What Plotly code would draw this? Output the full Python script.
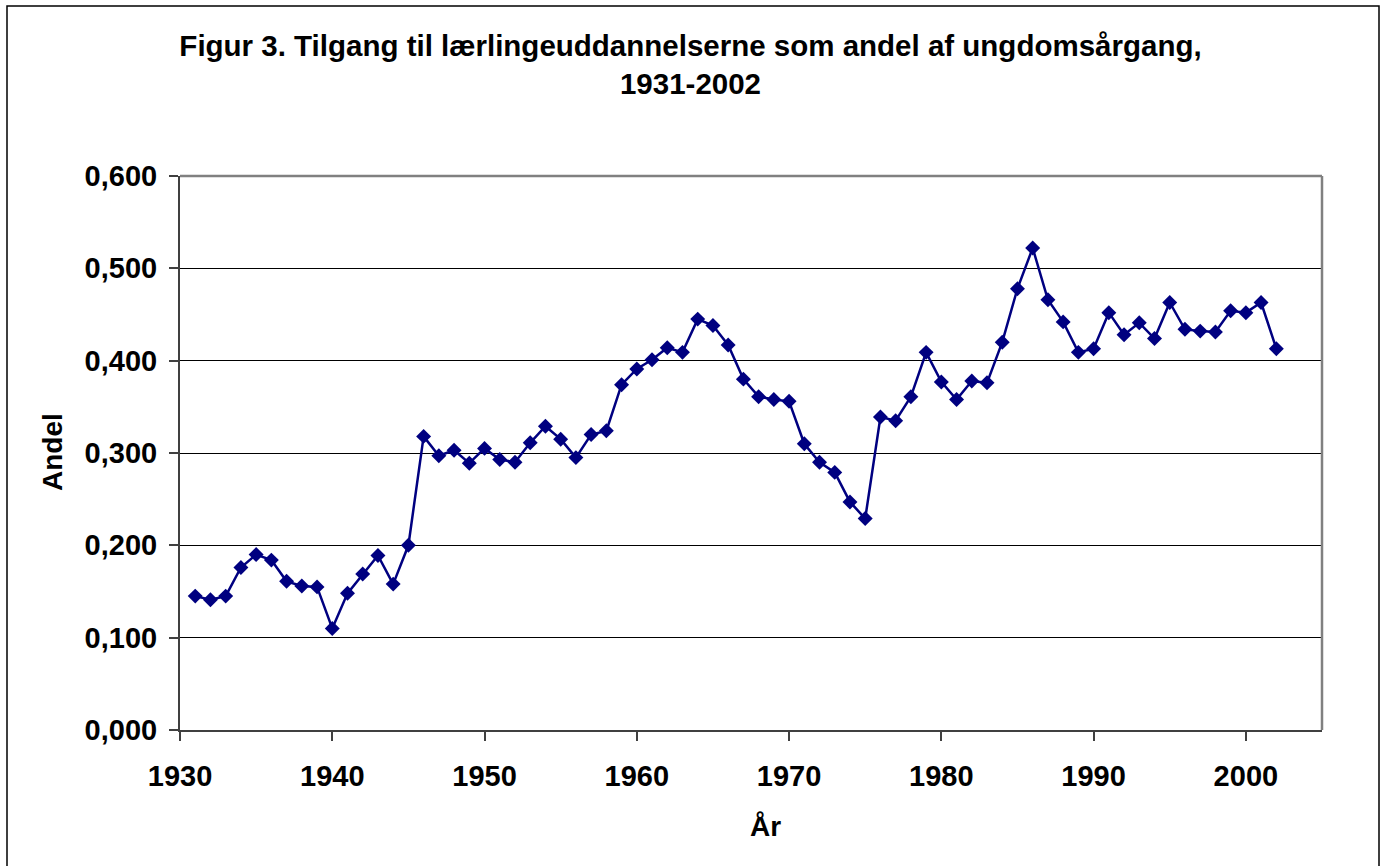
import plotly.graph_objects as go

years = list(range(1931, 2003))
andel = [
    0.145, 0.141, 0.145, 0.176, 0.190, 0.184, 0.161, 0.156, 0.155, 0.110,
    0.148, 0.169, 0.189, 0.158, 0.200, 0.318, 0.297, 0.303, 0.289, 0.305,
    0.293, 0.290, 0.311, 0.329, 0.315, 0.295, 0.320, 0.324, 0.374, 0.391,
    0.401, 0.414, 0.409, 0.445, 0.438, 0.417, 0.380, 0.361, 0.358, 0.356,
    0.310, 0.290, 0.279, 0.247, 0.229, 0.339, 0.335, 0.361, 0.409, 0.377,
    0.358, 0.378, 0.376, 0.420, 0.478, 0.522, 0.466, 0.442, 0.409, 0.413,
    0.452, 0.428, 0.441, 0.424, 0.463, 0.434, 0.432, 0.431, 0.454, 0.452,
    0.463, 0.413,
]
y_ticks = [0.0, 0.1, 0.2, 0.3, 0.4, 0.5, 0.6]
x_ticks = [1930, 1940, 1950, 1960, 1970, 1980, 1990, 2000]

title_text = "Figur 3. Tilgang til lærlingeuddannelserne som andel af ungdomsårgang,<br>1931-2002"
x_title = "År"
y_title = "Andel"

W, H = 1381, 866
L, R, T, B = 180, 59, 176, 136
pw, ph = W - L - R, H - T - B

def px(xpix):
    return (xpix - L) / pw

def py(ypix):
    return (H - B - ypix) / ph

FONT = "Liberation Sans, Arial, sans-serif"

fig = go.Figure()
fig.add_trace(go.Scatter(
    x=years, y=andel, mode="lines+markers",
    line=dict(color="#000080", width=2.5),
    marker=dict(symbol="diamond", size=11.5, color="#000080"),
    showlegend=False, cliponaxis=False,
))

fig.update_layout(
    width=W, height=H,
    margin=dict(l=L, r=R, t=T, b=B, autoexpand=False),
    paper_bgcolor="white", plot_bgcolor="white",
    separators=",.",
    font=dict(family=FONT, color="black", size=28),
    title=dict(text="<b>" + title_text + "</b>", x=0.5, xanchor="center",
               y=1 - 56 / H, yanchor="top",
               font=dict(size=29.5, family=FONT, color="black")),
    xaxis=dict(range=[1930, 2005], tickvals=x_ticks, showgrid=False,
               showline=True, linecolor="#404040", linewidth=2,
               ticks="outside", ticklen=9, tickcolor="#404040", tickwidth=1.5,
               tickfont=dict(size=29, family=FONT, color="black", weight="bold"),
               ticklabelstandoff=10, zeroline=False),
    yaxis=dict(range=[0, 0.6], tickvals=y_ticks, tickformat=".3f",
               showgrid=True, gridcolor="black", gridwidth=1,
               showline=True, linecolor="#404040", linewidth=2,
               ticks="outside", ticklen=9, tickcolor="#404040", tickwidth=1.5,
               tickfont=dict(size=29, family=FONT, color="black", weight="bold"),
               ticklabelstandoff=6, zeroline=False),
    shapes=[
        dict(type="line", xref="paper", yref="paper", x0=0, x1=1, y0=1, y1=1,
             line=dict(color="#808080", width=2.5)),
        dict(type="line", xref="paper", yref="paper", x0=1, x1=1, y0=0, y1=1,
             line=dict(color="#808080", width=2.5)),
        dict(type="rect", xref="paper", yref="paper",
             x0=px(7), x1=px(1379), y0=py(870), y1=py(6),
             line=dict(color="black", width=1.5), layer="below"),
    ],
    annotations=[
        dict(text="<b>" + x_title + "</b>", xref="paper", yref="paper",
             x=px(765), y=py(826), xanchor="center", yanchor="middle",
             showarrow=False, font=dict(size=28, family=FONT, color="black")),
        dict(text="<b>" + y_title + "</b>", xref="paper", yref="paper",
             x=px(52), y=py(452), xanchor="center", yanchor="middle",
             textangle=-90, showarrow=False,
             font=dict(size=28, family=FONT, color="black")),
    ],
)

fig.write_html("out.html", config={"displayModeBar": False},
               post_script="document.body.style.margin='0';document.body.style.overflow='hidden';")
